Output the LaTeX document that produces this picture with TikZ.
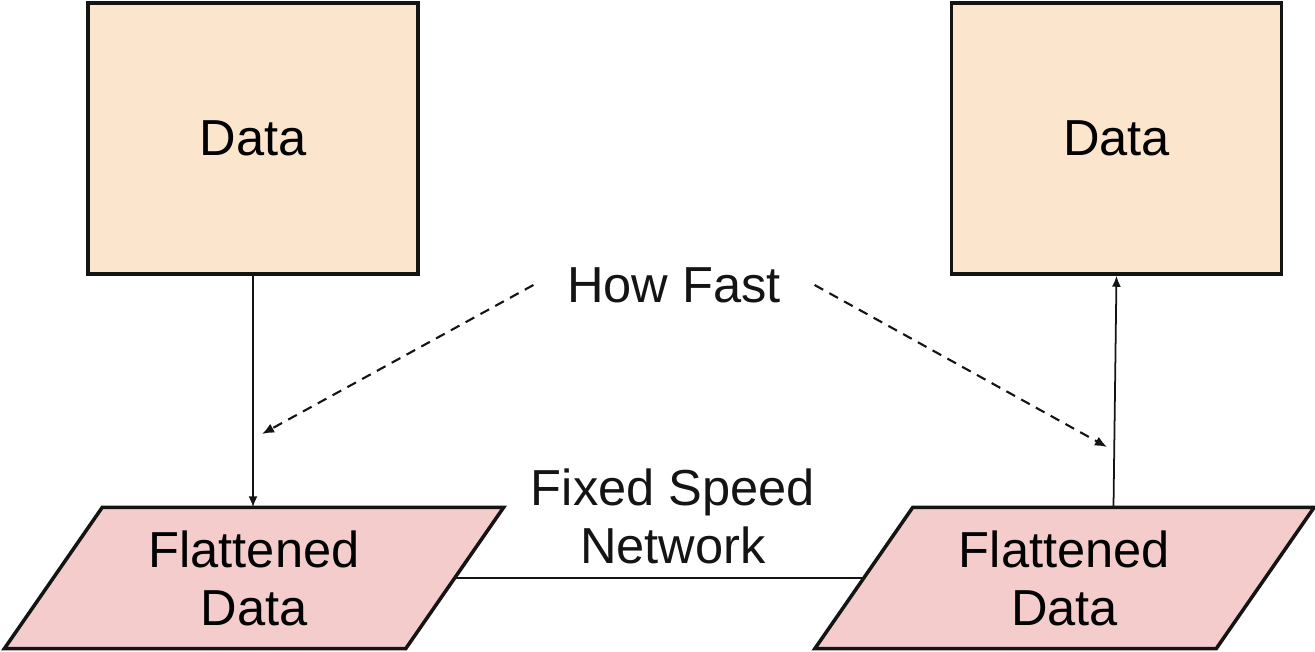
\documentclass[tikz,border=0pt]{standalone}
\usepackage{fontspec}
\setmainfont{Liberation Sans}
\usepackage{tikz}
\usetikzlibrary{arrows.meta,positioning,backgrounds}
\definecolor{ink}{RGB}{20,20,20}
\definecolor{peach}{HTML}{FCE5CD}
\definecolor{rose}{HTML}{F4CCCC}
\tikzset{
  databox/.style={draw=ink,line width=1pt,fill=peach,minimum width=3.3cm,
    minimum height=2.71cm,inner sep=0pt,font=\fontsize{14.4}{16.5}\selectfont},
  flat/.style={minimum width=4cm,minimum height=1.4cm,inner sep=0pt,
    align=center,font=\fontsize{14.4}{16.5}\selectfont},
  flatshape/.style={draw=ink,line width=1pt,fill=rose,line join=miter},
  lbl/.style={font=\fontsize{14.4}{16.5}\selectfont,align=center,text=ink},
  arr/.style={-{Latex[length=1.1mm,width=0.9mm]},line width=0.5pt,ink},
  dsh/.style={-{Latex[length=1.2mm,width=1mm]},line width=0.6pt,ink,
    dash pattern=on 2.8pt off 2pt},
}
\newcommand{\slantbox}[1]{%
  \draw[flatshape] ([xshift=4.9mm]#1.north west) -- ([xshift=4.9mm]#1.north east)
    -- ([xshift=-4.9mm]#1.south east) -- ([xshift=-4.9mm]#1.south west) -- cycle;}
\begin{document}
\begin{tikzpicture}
  \useasboundingbox (0,0) rectangle (13.15,6.52);
  \node[databox] (dl) at (2.53,5.135) {Data};
  \node[databox] (dr) at (11.165,5.135) {Data};
  \node[flat] (fl) at (2.54,0.74) {Flattened\\Data};
  \node[flat] (fr) at (10.645,0.74) {Flattened\\Data};
  \begin{scope}[on background layer]
    \slantbox{fl}
    \slantbox{fr}
  \end{scope}
  \node[lbl,inner xsep=0.33cm] (hf) at (6.74,3.67) {How Fast};
  \node[lbl] (fsn) at (6.73,1.36) {Fixed Speed\\Network};
  \coordinate (hl) at (2.62,2.18);
  \coordinate (hr) at (11.07,2.05);
  \draw[arr] (dl.south) -- (dl.south |- fl.north);
  \draw[arr] ([xshift=4.9mm]fr.north) -- (dr.south);
  \draw[line width=0.8pt,ink] (fl.east) -- (fr.west);
  \draw[dsh] (hf.west) -- (hl);
  \draw[dsh] (hf.east) -- (hr);
\end{tikzpicture}
\end{document}
